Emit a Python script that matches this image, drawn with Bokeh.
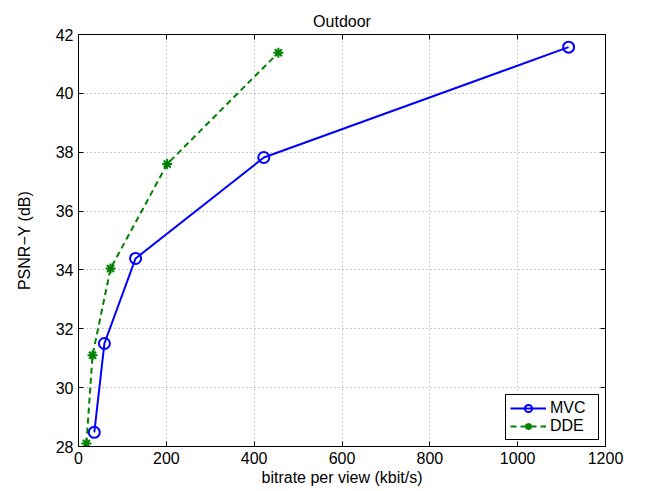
from bokeh.plotting import figure
from bokeh.models import LinearAxis, Range1d, FixedTicker
from bokeh.embed import file_html
from bokeh.resources import INLINE

mvc_rate = [36, 59, 130, 422, 1116]
mvc_psnr = [28.48, 31.5, 34.39, 37.82, 41.57]
dde_rate = [18, 32, 73, 202, 455]
dde_psnr = [28.1, 31.1, 34.05, 37.6, 41.38]
x_ticks = [0, 200, 400, 600, 800, 1000, 1200]
y_ticks = [28, 30, 32, 34, 36, 38, 40, 42]

FONT = "Liberation Sans"
FS = "16px"

p = figure(width=645, height=490, output_backend="svg", toolbar_location=None,
           x_range=Range1d(0, 1200), y_range=Range1d(28, 42),
           min_border_left=78, min_border_right=40, min_border_top=34, min_border_bottom=44,
           x_axis_label="bitrate per view (kbit/s)", y_axis_label="PSNR\u2212Y (dB)")
p.title.text = "Outdoor"
p.title.align = "center"
p.title.text_font = FONT
p.title.text_font_size = FS
p.title.text_font_style = "normal"
p.title.text_color = "black"
p.title.offset = 0
p.title.standoff = 10

p.outline_line_color = "black"
p.outline_line_width = 1
p.outline_line_alpha = 1

for ax in (p.xaxis[0], p.yaxis[0]):
    ax.major_tick_in = 5
    ax.major_tick_out = 0
    ax.minor_tick_in = 0
    ax.minor_tick_out = 0
    ax.axis_line_color = "black"
    ax.major_tick_line_color = "black"
    ax.major_label_text_font = FONT
    ax.major_label_text_font_size = FS
    ax.major_label_text_color = "black"
    ax.axis_label_text_font = FONT
    ax.axis_label_text_font_size = FS
    ax.axis_label_text_font_style = "normal"
    ax.axis_label_text_color = "black"
p.xaxis[0].ticker = FixedTicker(ticks=x_ticks)
p.yaxis[0].ticker = FixedTicker(ticks=y_ticks)
p.xaxis[0].major_label_standoff = 5
p.xaxis[0].axis_label_standoff = 2
p.yaxis[0].major_label_standoff = 5
p.yaxis[0].axis_label_standoff = 20

top = LinearAxis(ticker=FixedTicker(ticks=x_ticks),
                 major_label_overrides={t: "" for t in x_ticks},
                 major_tick_in=5, major_tick_out=0, minor_tick_in=0, minor_tick_out=0,
                 major_label_standoff=0)
right = LinearAxis(ticker=FixedTicker(ticks=y_ticks),
                   major_label_overrides={t: "" for t in y_ticks},
                   major_tick_in=5, major_tick_out=0, minor_tick_in=0, minor_tick_out=0,
                   major_label_standoff=0)
p.add_layout(top, "above")
p.add_layout(right, "right")

p.xgrid[0].ticker = FixedTicker(ticks=x_ticks)
p.ygrid[0].ticker = FixedTicker(ticks=y_ticks)
for g in (p.xgrid[0], p.ygrid[0]):
    g.grid_line_color = "black"
    g.grid_line_alpha = 0.42
    g.grid_line_dash = "1 3"
    g.grid_line_width = 1

p.line(mvc_rate, mvc_psnr, line_color="#0000ff", line_width=2, legend_label="MVC")
p.scatter(mvc_rate, mvc_psnr, marker="circle", size=11, fill_color=None,
          line_color="#0000ff", line_width=2, legend_label="MVC")
p.line(dde_rate, dde_psnr, line_color="#008000", line_width=2, line_dash="6 4", legend_label="DDE")
p.scatter(dde_rate, dde_psnr, marker="asterisk", size=10, line_color="#008000",
          line_width=2, legend_label="DDE")

lg = p.legend[0]
lg.location = "bottom_right"
lg.margin = 6
lg.padding = 4
lg.spacing = 0
lg.glyph_width = 36
lg.glyph_height = 18
lg.label_width = 44
lg.label_height = 18
lg.label_text_font = FONT
lg.label_text_font_size = FS
lg.label_text_color = "black"
lg.label_standoff = 4
lg.border_line_color = "black"
lg.border_line_width = 1
lg.border_line_alpha = 1
lg.background_fill_color = "white"
lg.background_fill_alpha = 1

open("out.html", "w").write(file_html(p, INLINE))
